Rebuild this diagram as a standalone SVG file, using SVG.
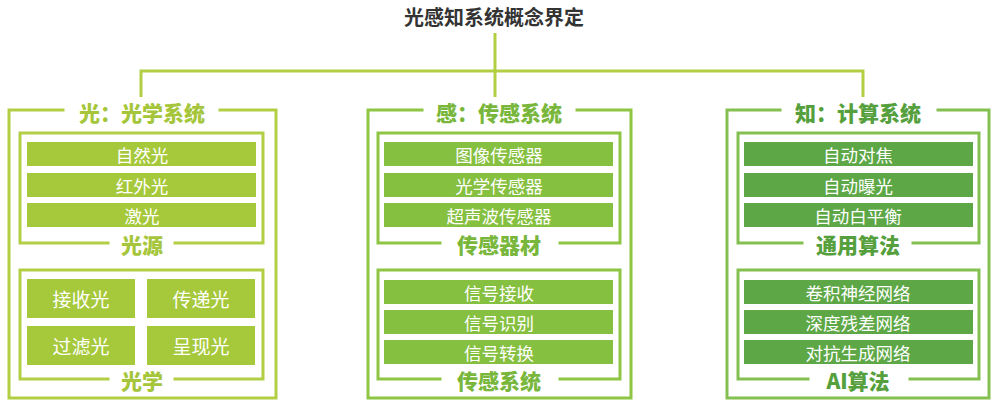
<svg xmlns="http://www.w3.org/2000/svg" width="1004" height="404" viewBox="0 0 1004 404">
<style>
text{font-family:"Noto Sans CJK SC","Noto Sans",sans-serif;text-anchor:middle;dominant-baseline:central}
.ttl{font-size:20px;font-weight:bold;fill:#333}
.hd{font-size:21px;font-weight:900}
.bt{font-size:17.5px;fill:#fff}
.ct{font-size:19px;fill:#fff}
.ln{fill:none;stroke-width:3;stroke-linecap:square}
.c1 .ln{stroke:#b2cf44}.c1 .bar{fill:#a6c93b}.c1 .hd{fill:#a5c63a}
.c2 .ln{stroke:#8ec643}.c2 .bar{fill:#86c040}.c2 .hd{fill:#79b73c}
.c3 .ln{stroke:#84c050}.c3 .bar{fill:#5da746}.c3 .hd{fill:#55a03d}
</style>
<rect width="1004" height="404" fill="#fff"/>
<g id="title"><text class="ttl" x="494" y="16">光感知系统概念界定</text></g>
<g id="connectors" fill="none" stroke="#b2cf44" stroke-width="3">
<path d="M141 97V71H863V97"/>
<path d="M495 33V97"/>
</g>
<g id="col1" class="c1">
<path class="ln" d="M63 110H9V398H276V110H220"/>
<text class="hd" x="142" y="112">光：光学系统</text>
<g id="c1-src">
<path class="ln" d="M108 243H20V133H263V243H175"/>
<rect class="bar" x="27" y="142" width="229" height="24"/><text class="bt" x="142" y="154">自然光</text>
<rect class="bar" x="27" y="173" width="229" height="24"/><text class="bt" x="142" y="185">红外光</text>
<rect class="bar" x="27" y="203" width="229" height="24"/><text class="bt" x="142" y="215">激光</text>
<text class="hd" x="142" y="244">光源</text>
</g>
<g id="c1-opt">
<path class="ln" d="M108 379H20V270H263V379H175"/>
<rect class="bar" x="27" y="279" width="108" height="39"/><text class="ct" x="81" y="298">接收光</text>
<rect class="bar" x="147" y="279" width="108" height="39"/><text class="ct" x="201" y="298">传递光</text>
<rect class="bar" x="27" y="326" width="108" height="39"/><text class="ct" x="81" y="345">过滤光</text>
<rect class="bar" x="147" y="326" width="108" height="39"/><text class="ct" x="201" y="345">呈现光</text>
<text class="hd" x="142" y="380">光学</text>
</g>
</g>
<g id="col2" class="c2">
<path class="ln" d="M422 110H368V398H631V110H577"/>
<text class="hd" x="499" y="112">感：传感系统</text>
<g id="c2-dev">
<path class="ln" d="M440 243H378V133H620V243H560"/>
<rect class="bar" x="384" y="142" width="229" height="24"/><text class="bt" x="499" y="154">图像传感器</text>
<rect class="bar" x="384" y="173" width="229" height="24"/><text class="bt" x="499" y="185">光学传感器</text>
<rect class="bar" x="384" y="203" width="229" height="24"/><text class="bt" x="499" y="215">超声波传感器</text>
<text class="hd" x="499" y="244">传感器材</text>
</g>
<g id="c2-sys">
<path class="ln" d="M440 379H378V270H620V379H560"/>
<rect class="bar" x="384" y="280" width="229" height="24"/><text class="bt" x="499" y="292">信号接收</text>
<rect class="bar" x="384" y="310" width="229" height="24"/><text class="bt" x="499" y="322">信号识别</text>
<rect class="bar" x="384" y="340" width="229" height="24"/><text class="bt" x="499" y="352">信号转换</text>
<text class="hd" x="499" y="380">传感系统</text>
</g>
</g>
<g id="col3" class="c3">
<path class="ln" d="M780 110H727V398H989V110H938"/>
<text class="hd" x="858" y="112">知：计算系统</text>
<g id="c3-gen">
<path class="ln" d="M802 243H738V133H979V243H913"/>
<rect class="bar" x="744" y="142" width="229" height="24"/><text class="bt" x="858" y="154">自动对焦</text>
<rect class="bar" x="744" y="173" width="229" height="24"/><text class="bt" x="858" y="185">自动曝光</text>
<rect class="bar" x="744" y="203" width="229" height="24"/><text class="bt" x="858" y="215">自动白平衡</text>
<text class="hd" x="858" y="244">通用算法</text>
</g>
<g id="c3-ai">
<path class="ln" d="M808 379H738V270H979V379H910"/>
<rect class="bar" x="744" y="280" width="229" height="24"/><text class="bt" x="858" y="292">卷积神经网络</text>
<rect class="bar" x="744" y="310" width="229" height="24"/><text class="bt" x="858" y="322">深度残差网络</text>
<rect class="bar" x="744" y="340" width="229" height="24"/><text class="bt" x="858" y="352">对抗生成网络</text>
<text class="hd" x="858" y="380">AI算法</text>
</g>
</g>
</svg>
